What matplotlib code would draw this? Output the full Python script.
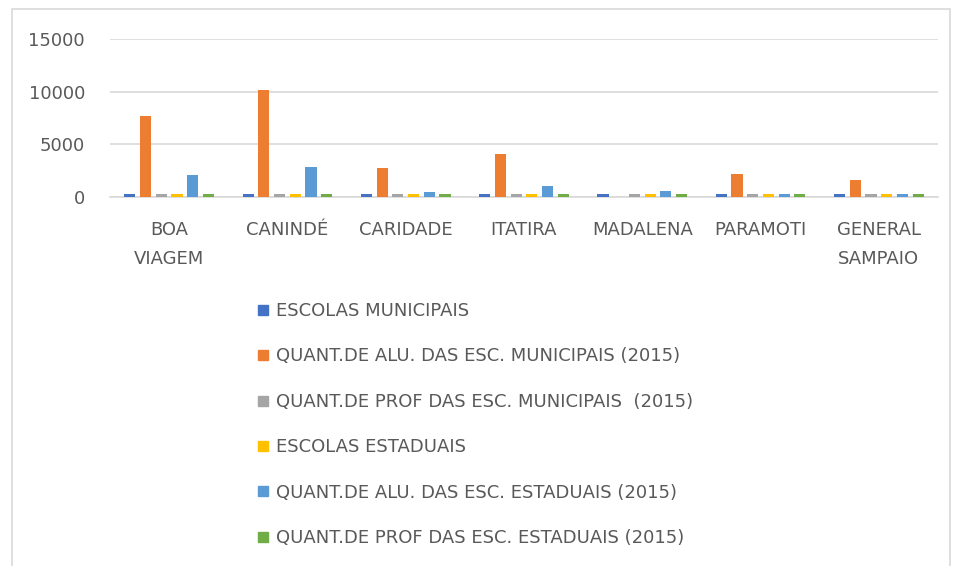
import matplotlib

matplotlib.use("Agg")
import matplotlib.pyplot as plt
import numpy as np
from matplotlib.lines import Line2D
from matplotlib.patches import Rectangle

plt.rcParams["font.family"] = ["DejaVu Sans"]

CITIES = ["BOA\nVIAGEM", "CANINDÉ", "CARIDADE", "ITATIRA", "MADALENA",
          "PARAMOTI", "GENERAL\nSAMPAIO"]

SERIES = [
    "ESCOLAS MUNICIPAIS",
    "QUANT.DE ALU. DAS ESC. MUNICIPAIS (2015)",
    "QUANT.DE PROF DAS ESC. MUNICIPAIS  (2015)",
    "ESCOLAS ESTADUAIS",
    "QUANT.DE ALU. DAS ESC. ESTADUAIS (2015)",
    "QUANT.DE PROF DAS ESC. ESTADUAIS (2015)",
]
COLORS = ["#4472C4", "#ED7D31", "#A5A5A5", "#FFC000", "#5B9BD5", "#70AD47"]

escolas_mun = [250, 250, 250, 250, 250, 250, 250]
alunos_mun = [7650, 10200, 2800, 4100, 0, 2150, 1600]
prof_mun = [250, 250, 250, 250, 250, 250, 250]
escolas_est = [250, 250, 250, 250, 250, 250, 250]
alunos_est = [2100, 2850, 500, 1050, 550, 250, 250]
prof_est = [250, 250, 250, 250, 250, 250, 250]

VALUES = [escolas_mun, alunos_mun, prof_mun, escolas_est, alunos_est, prof_est]

TEXT = "#595959"
GRID = "#d9d9d9"

fig = plt.figure(figsize=(9.57, 5.66), dpi=100)
# light frame round the chart area
fig.patches.append(Rectangle((12 / 957, -0.01), 938 / 957, 1 - 9 / 566 + 0.01,
                             transform=fig.transFigure, fill=False,
                             edgecolor=GRID, linewidth=1.2))

ax = fig.add_axes([110 / 957, 1 - 197 / 566, 828 / 957, 158 / 566])
x = np.arange(len(CITIES))
slot = 0.133
offsets = (np.arange(len(SERIES)) - (len(SERIES) - 1) / 2) * slot
for i, (name, vals) in enumerate(zip(SERIES, VALUES)):
    ax.bar(x + offsets[i], vals, width=0.094, color=COLORS[i], label=name, zorder=3)

ax.set_xlim(-0.5, len(CITIES) - 0.5)
ax.set_ylim(0, 15000)
ax.set_yticks([0, 5000, 10000, 15000])
ax.set_yticklabels(["0", "5000", "10000", "15000"])
ax.yaxis.grid(True, color=GRID, linewidth=1.2, zorder=0)
for s in ["left", "right", "top"]:
    ax.spines[s].set_visible(False)
ax.spines["bottom"].set_color(GRID)
ax.spines["bottom"].set_linewidth(1.2)
ax.set_xticks(x)
ax.set_xticklabels(CITIES, fontsize=13, color=TEXT, linespacing=1.8)
ax.tick_params(axis="both", length=0, colors=TEXT, labelsize=13)
ax.tick_params(axis="x", pad=17)
ax.tick_params(axis="y", pad=18)

handles = [Line2D([], [], marker="s", linestyle="none", markersize=7,
                  color=c) for c in COLORS]
fig.legend(handles, SERIES, loc="upper left", bbox_to_anchor=(0.259, 1 - 293 / 566),
           frameon=False, fontsize=13, labelcolor=TEXT, labelspacing=1.52,
           handlelength=0.7, handletextpad=0.35, borderpad=0)

fig.savefig("out.png", dpi=100)
